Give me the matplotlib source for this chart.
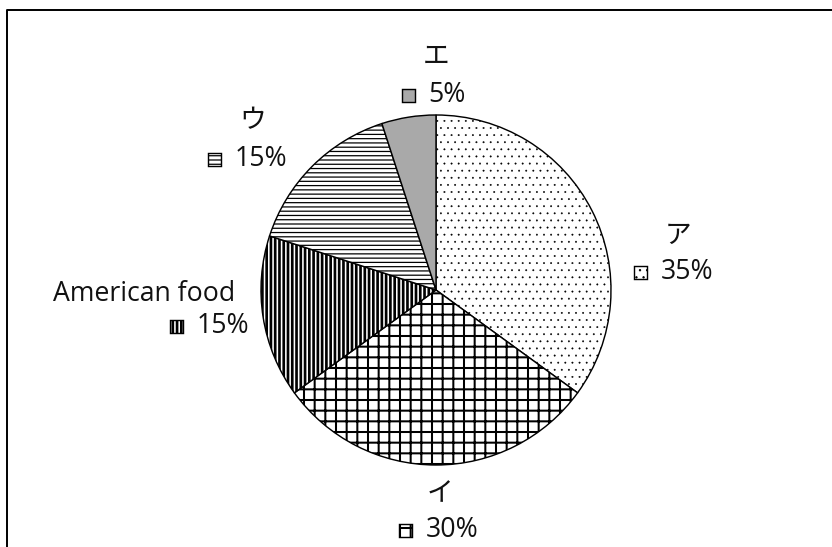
import matplotlib
matplotlib.use("Agg")
import matplotlib.pyplot as plt
from matplotlib.patches import Rectangle
from matplotlib.lines import Line2D

plt.rcParams['font.family'] = ['Open Sans', 'Noto Sans CJK JP', 'DejaVu Sans']
plt.rcParams['hatch.linewidth'] = 0.9

# ---- data ----
labels = ['ア', 'イ', 'American food', 'ウ', 'エ']
values = [35, 30, 15, 15, 5]
hatches = ['...', '++', '|||||', '-----', '']
colors = ['white', 'white', 'white', 'white', '#a9a9a9']
hatch_lw = [0.25, 1.15, 1.5, 0.7, 0.9]

W, H, DPI = 832, 547, 128
fig = plt.figure(figsize=(W / DPI, H / DPI), dpi=DPI)
ax = fig.add_axes([0, 0, 1, 1])

def Y(y):
    return H - y

def set_hlw(p, lw):
    if hasattr(p, 'set_hatch_linewidth'):
        p.set_hatch_linewidth(lw)

cx, cy, r = 436, 290, 175
wedges, _ = ax.pie(values, startangle=90, counterclock=False,
                   center=(cx, Y(cy)), radius=r, colors=colors,
                   wedgeprops=dict(edgecolor='black', linewidth=0.8),
                   frame=True)
for w, h, lw in zip(wedges, hatches, hatch_lw):
    w.set_hatch(h)
    set_hlw(w, lw)
ax.set_xlim(0, W)
ax.set_ylim(0, H)
ax.set_aspect('equal')
ax.set_axis_off()

# label layout: (name x, name y, square x, row y)
layout = {
    'ア': (678, 236, 640, 272),
    'イ': (440, 494, 405, 530),
    'American food': (144, 294, 176, 326),
    'ウ': (253, 121, 214, 159),
    'エ': (436, 57, 408, 95),
}
fs = 15
sq = 13
for lab, val, h, c, lw in zip(labels, values, hatches, colors, hatch_lw):
    nx, ny, sx, ry = layout[lab]
    ax.text(nx, Y(ny), lab, ha='center', va='center', fontsize=fs, color='#111111')
    rect = Rectangle((sx - sq / 2, Y(ry) - sq / 2), sq, sq,
                     facecolor=c, edgecolor='black', linewidth=0.8, hatch=h)
    set_hlw(rect, max(lw, 0.5))
    ax.add_patch(rect)
    ax.text(sx + sq / 2 + 14, Y(ry), f'{val}%', ha='left', va='center',
            fontsize=fs, color='#111111')

# outer frame (partly visible)
fig.add_artist(Line2D([7.5 / W, 7.5 / W, 1.0], [0, 1 - 9.5 / H, 1 - 9.5 / H],
                      transform=fig.transFigure, color='black', linewidth=1.1))

fig.savefig('out.png', dpi=DPI)
